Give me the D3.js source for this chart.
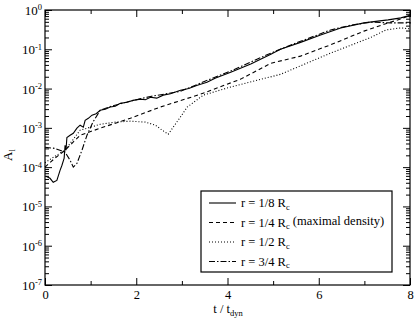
<!DOCTYPE html>
<html>
<head>
<meta charset="utf-8">
<script src="https://cdn.jsdelivr.net/npm/d3@7"></script>
<style>
  body { margin: 0; background: #fff; }
  text { font-family: "Liberation Serif", "DejaVu Serif", serif; }
</style>
</head>
<body>
<div id="chart"></div>
<script>
// data: t / t_dyn and A_l
const tSolid = [0.02, 0.11, 0.18, 0.26, 0.33, 0.37, 0.42, 0.44, 0.46, 0.48, 0.55, 0.62, 0.70, 0.77, 0.84, 0.88, 0.95, 1.03, 1.12, 1.21, 1.32, 1.43, 1.54, 1.65, 1.80, 1.93, 2.09, 2.20, 2.31, 2.45, 2.59, 2.75, 2.97, 3.15, 3.34, 3.55, 3.74, 4.07, 4.51, 4.95, 5.16, 5.60, 6.04, 6.48, 6.99, 7.52, 7.80, 8.02];
const aSolid = [5.9e-5, 5.2e-5, 4.1e-5, 4.6e-5, 8.3e-5, 1.1e-4, 1.7e-4, 3.6e-4, 2.7e-4, 5.7e-4, 6.5e-4, 7.3e-4, 9.8e-4, 1.17e-3, 1.04e-3, 1.56e-3, 1.75e-3, 2.1e-3, 2.3e-3, 2.8e-3, 2.96e-3, 3.4e-3, 3.55e-3, 4.2e-3, 4.5e-3, 5.0e-3, 5.4e-3, 5.2e-3, 6.0e-3, 5.7e-3, 6.8e-3, 7.4e-3, 9.1e-3, 1.0e-2, 1.22e-2, 1.45e-2, 1.85e-2, 2.6e-2, 4.2e-2, 7.5e-2, 0.10, 0.15, 0.23, 0.35, 0.47, 0.56, 0.63, 0.75];

const tDashed = [0, 0.22, 0.44, 0.77, 1.21, 1.87, 2.53, 3.41, 4.29, 4.95, 5.60, 6.26, 6.99, 7.52, 7.80, 8.02];
const aDashed = [1.0e-4, 1.7e-4, 2.7e-4, 6.5e-4, 9.8e-4, 1.75e-3, 3.4e-3, 7.2e-3, 1.74e-2, 4.4e-2, 6.7e-2, 0.13, 0.29, 0.47, 0.59, 0.75];

const tDotted = [0, 0.22, 0.44, 0.77, 1.21, 1.54, 1.87, 2.20, 2.42, 2.57, 2.70, 2.81, 2.97, 3.12, 3.47, 4.07, 5.16, 6.26, 7.14, 7.47, 7.80, 8.02];
const aDotted = [1.3e-4, 1.9e-4, 2.7e-4, 8.7e-4, 1.23e-3, 1.4e-3, 1.48e-3, 1.4e-3, 1.17e-3, 8.7e-4, 6.9e-4, 1.04e-3, 1.9e-3, 3.4e-3, 6.8e-3, 1.1e-2, 2.3e-2, 8.0e-2, 0.20, 0.31, 0.35, 0.33];

const tDashDot = [0, 0.22, 0.44, 0.55, 0.62, 0.70, 0.81, 0.92, 1.05, 1.21, 1.43, 1.87, 2.31, 2.97, 3.41, 4.07, 4.95, 5.60, 6.26, 6.70, 7.14, 7.58, 8.02];
const aDashDot = [3.2e-4, 3.0e-4, 2.4e-4, 1.5e-4, 1.0e-4, 1.25e-4, 2.7e-4, 6.5e-4, 1.4e-3, 2.8e-3, 3.5e-3, 4.8e-3, 6.3e-3, 8.5e-3, 1.38e-2, 2.8e-2, 8.0e-2, 0.16, 0.31, 0.41, 0.49, 0.47, 0.47];

const xTicks = [0, 2, 4, 6, 8];
const xMinor = [1, 3, 5, 7];
const yExponents = [-7, -6, -5, -4, -3, -2, -1, 0];

const seriesNames = ["1/8", "1/4", "1/2", "3/4"];
const seriesNotes = ["", " (maximal density)", "", ""];

function init() {
    const width = 415;
    const height = 321;
    const left = 45, right = 410, top = 10, bottom = 285;

    const x = d3.scaleLinear().domain([0, 8]).range([left, right]);
    const y = d3.scaleLog().domain([1e-7, 1]).range([bottom, top]);

    const svg = d3.select("#chart")
        .append("svg")
        .attr("width", width)
        .attr("height", height);

    const yMajor = yExponents.map(e => Math.pow(10, e));
    const yMinor = [];
    yExponents.slice(0, -1).forEach(function (e) {
        for (let k = 2; k <= 9; k++) yMinor.push(k * Math.pow(10, e));
    });

    // bottom axis with labels, ticks pointing in
    svg.append("g")
        .attr("class", "xlab")
        .attr("transform", `translate(0,${bottom})`)
        .call(d3.axisBottom(x).tickValues(xTicks).tickSize(-7).tickPadding(5).tickFormat(d3.format("d")))
        .call(g => g.select(".domain").remove());
    svg.append("g")
        .attr("transform", `translate(0,${bottom})`)
        .call(d3.axisBottom(x).tickValues(xMinor).tickSize(-4).tickFormat(""))
        .call(g => g.select(".domain").remove());
    // top ticks
    svg.append("g")
        .attr("transform", `translate(0,${top})`)
        .call(d3.axisTop(x).tickValues(xTicks).tickSize(-7).tickFormat(""))
        .call(g => g.select(".domain").remove());
    svg.append("g")
        .attr("transform", `translate(0,${top})`)
        .call(d3.axisTop(x).tickValues(xMinor).tickSize(-4).tickFormat(""))
        .call(g => g.select(".domain").remove());

    // left axis
    svg.append("g")
        .attr("transform", `translate(${left},0)`)
        .call(d3.axisLeft(y).tickValues(yMajor).tickSize(-7).tickPadding(3).tickFormat(""))
        .call(g => g.select(".domain").remove())
        .call(g => g.selectAll(".tick text")
            .attr("dy", "0.35em")
            .each(function (d) {
                const t = d3.select(this);
                const e = Math.round(Math.log10(d));
                t.append("tspan").text("10");
                t.append("tspan").attr("dy", "-0.55em").attr("font-size", "8.5px")
                    .text(e === 0 ? "0" : "-" + Math.abs(e));
            }));
    svg.append("g")
        .attr("transform", `translate(${left},0)`)
        .call(d3.axisLeft(y).tickValues(yMinor).tickSize(-4).tickFormat(""))
        .call(g => g.select(".domain").remove());
    // right ticks
    svg.append("g")
        .attr("transform", `translate(${right},0)`)
        .call(d3.axisRight(y).tickValues(yMajor).tickSize(-7).tickFormat(""))
        .call(g => g.select(".domain").remove());
    svg.append("g")
        .attr("transform", `translate(${right},0)`)
        .call(d3.axisRight(y).tickValues(yMinor).tickSize(-4).tickFormat(""))
        .call(g => g.select(".domain").remove());

    svg.selectAll(".tick text").attr("font-family", "Liberation Serif").attr("font-size", 13).attr("fill", "#000");
    svg.selectAll(".xlab .tick text").attr("font-size", 12.5);
    svg.selectAll(".tick line").attr("stroke", "#000");

    // frame
    svg.append("rect")
        .attr("x", left).attr("y", top)
        .attr("width", right - left).attr("height", bottom - top)
        .attr("fill", "none").attr("stroke", "#000").attr("stroke-width", 1.2);

    // axis titles
    const xt = svg.append("text")
        .attr("x", 228).attr("y", 313)
        .attr("text-anchor", "middle").attr("font-size", 12.5);
    xt.append("tspan").text("t / t");
    xt.append("tspan").attr("dy", "0.3em").attr("font-size", "8.5px").text("dyn");

    const yt = svg.append("text")
        .attr("transform", "translate(12,155) rotate(-90)")
        .attr("text-anchor", "middle").attr("font-size", 13);
    yt.append("tspan").text("A");
    yt.append("tspan").attr("dy", "0.3em").attr("font-size", "9px").text("l");

    const line = d3.line()
        .x(d => x(d[0]))
        .y(d => y(d[1]));

    const series = [
        { t: tSolid, a: aSolid, dash: null },
        { t: tDashed, a: aDashed, dash: "4,3" },
        { t: tDotted, a: aDotted, dash: "1,2" },
        { t: tDashDot, a: aDashDot, dash: "6,2,1.5,2" }
    ];

    const plot = svg.append("g");
    series.forEach(function (s) {
        plot.append("path")
            .datum(d3.zip(s.t, s.a))
            .attr("d", line)
            .attr("fill", "none")
            .attr("stroke", "#000")
            .attr("stroke-width", 1.1)
            .attr("stroke-dasharray", s.dash);
    });

    // legend
    const lg = svg.append("g");
    lg.append("rect")
        .attr("x", 201).attr("y", 191)
        .attr("width", 191).attr("height", 81)
        .attr("fill", "#fff").attr("stroke", "#000").attr("stroke-width", 1.2);
    series.forEach(function (s, i) {
        const yy = 203 + i * 19.5;
        lg.append("line")
            .attr("x1", 209).attr("x2", 236)
            .attr("y1", yy).attr("y2", yy)
            .attr("stroke", "#000").attr("stroke-width", 1.1)
            .attr("stroke-dasharray", s.dash);
        const tx = lg.append("text")
            .attr("x", 241).attr("y", yy + 4)
            .attr("font-size", 12.5);
        tx.append("tspan").text("r = " + seriesNames[i] + " R");
        tx.append("tspan").attr("dy", "0.3em").attr("font-size", "8.5px").text("c");
        if (seriesNotes[i]) tx.append("tspan").attr("dy", "-0.3em").text(seriesNotes[i]);
    });
}

window.onload = init;
</script>
</body>
</html>
